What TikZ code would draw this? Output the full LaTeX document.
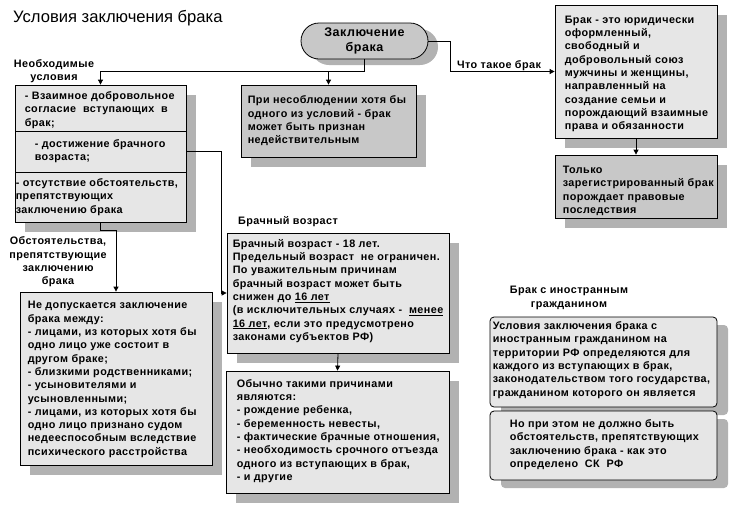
\documentclass[tikz,border=0pt]{standalone}
\usepackage{fontspec}
\setmainfont{Liberation Sans}[LetterSpace=4.0]
\newfontfamily\titlefont{Liberation Sans}
\usetikzlibrary{arrows.meta,shadows,calc}
\definecolor{lfill}{RGB}{230,230,230}
\definecolor{dfill}{RGB}{200,200,200}
\definecolor{shd}{RGB}{178,178,178}
\begin{document}
\begin{tikzpicture}[x=1pt,y=-1pt,
  every node/.style={font=\bfseries\fontsize{10.8}{13.3}\selectfont},
  bx/.style={draw, line width=0.8pt, rectangle, inner sep=0pt, anchor=center},
  lt/.style={bx, fill=lfill},
  dk/.style={bx, fill=dfill},
  tx/.style={align=left, inner sep=0pt, anchor=west},
  shad/.style={drop shadow={shadow xshift=10pt, shadow yshift=-10pt, fill=shd, opacity=1}},
  lbl/.style={align=center, inner sep=0pt},
  arr/.style={line width=0.8pt, -{Triangle[length=5pt,width=5pt]}},
  ln/.style={line width=0.8pt}]
\useasboundingbox (0,0) rectangle (730,504);

\node[anchor=west, inner sep=0pt, font=\titlefont\fontsize{16.6}{18}\selectfont] (title) at (13,18) {Условия заключения брака};

% terminator
\node[dk, rounded corners=18pt, minimum width=127pt, minimum height=36pt, align=center,
  font=\bfseries\fontsize{12.5}{15}\selectfont,
  drop shadow={shadow xshift=10pt, shadow yshift=-6pt, fill=shd, opacity=1}] (term) at (364.5,41) {Заключение\\брака};

% left box with three sections
\node[lt, shad, minimum width=171pt, minimum height=137pt] (cond) at (100.5,153.5) {};
\node[lt, minimum width=171pt, minimum height=46pt] (cond1) at (100.5,108) {};
\node[tx] (cond1t) at ($(cond1.west)+(10,2)$) {- Взаимное добровольное\\согласие\ \ вступающих\ \ в\\брак;};
\node[lt, minimum width=171pt, minimum height=41pt] (cond2) at (100.5,151.5) {};
\node[tx] (cond2t) at ($(cond2.west)+(20,0)$) {- достижение брачного\\возраста;};
\node[lt, minimum width=171pt, minimum height=50pt] (cond3) at (100.5,197) {};
\node[tx] (cond3t) at ($(cond3.west)+(1,0)$) {- отсутствие обстоятельств,\\препятствующих\\заключению брака};

\node[dk, shad, minimum width=175pt, minimum height=72pt] (nes) at (328.5,121) {};
\node[tx] (nest) at ($(nes.west)+(7,0)$) {При несоблюдении хотя бы\\одного из условий - брак\\может быть признан\\недействительным};

\node[lt, shad, minimum width=162pt, minimum height=133pt] (brak) at (636,71.5) {};
\node[tx] (brakt) at ($(brak.west)+(10,2.5)$) {Брак - это юридически\\оформленный,\\свободный и\\добровольный союз\\мужчины и женщины,\\направленный на\\создание семьи и\\порождающий взаимные\\права и обязанности};

\node[dk, shad, minimum width=162pt, minimum height=63pt] (tolko) at (636,186.5) {};
\node[tx] (tolkot) at ($(tolko.west)+(8,4.5)$) {Только\\зарегистрированный брак\\порождает правовые\\последствия};

\node[lt, shad, minimum width=222pt, minimum height=120pt] (vozr) at (338,293) {};
\node[tx] (vozrt) at ($(vozr.west)+(6,-2)$) {Брачный возраст - 18 лет.\\Предельный возраст\ \ не ограничен.\\По уважительным причинам\\брачный возраст может быть\\снижен до \underline{16 лет}\\(в исключительных случаях -\ \ \underline{менее}\\\underline{16 лет}, если это предусмотрено\\законами субъектов РФ)};

\node[lt, shad, minimum width=223pt, minimum height=122pt] (obych) at (337.5,432) {};
\node[tx] (obycht) at ($(obych.west)+(11,-1)$) {Обычно такими причинами\\являются:\\- рождение ребенка,\\- беременность невесты,\\- фактические брачные отношения,\\- необходимость срочного отъезда\\одного из вступающих в брак,\\- и другие};

\node[lt, shad, minimum width=192pt, minimum height=173pt] (nd) at (116,378.5) {};
\node[tx] (ndt) at ($(nd.west)+(8,1)$) {Не допускается заключение\\брака между:\\- лицами, из которых хотя бы\\одно лицо уже состоит в\\другом браке;\\- близкими родственниками;\\- усыновителями и\\усыновленными;\\- лицами, из которых хотя бы\\одно лицо признано судом\\недееспособным вследствие\\психического расстройства};

\node[lt, rounded corners=4pt, drop shadow={shadow xshift=11pt, shadow yshift=-8pt, fill=shd, opacity=1},
  minimum width=227pt, minimum height=90pt] (for1) at (603.5,362) {};
\node[tx] (for1t) at ($(for1.west)+(3,-2)$) {Условия заключения брака с\\иностранным гражданином на\\территории РФ определяются для\\каждого из вступающих в брак,\\законодательством того государства,\\гражданином которого он является};

\node[lt, rounded corners=4pt, drop shadow={shadow xshift=11pt, shadow yshift=-8pt, fill=shd, opacity=1},
  minimum width=227pt, minimum height=69pt] (for2) at (603.5,445.5) {};
\node[tx] (for2t) at ($(for2.west)+(20,-1)$) {Но при этом не должно быть\\обстоятельств, препятствующих\\заключению брака - как это\\определено\ \ СК\ \ РФ};

% labels
\node[lbl] (lneob) at (54,71.5) {Необходимые\\условия};
\node[lbl] (lobst) at (58,262) {Обстоятельства,\\препятствующие\\заключению\\брака};
\node[lbl, anchor=west] (lvozr) at (238,222) {Брачный возраст};
\node[lbl] (lfor) at (569,298) {Брак с иностранным\\гражданином};
\node[lbl] (lchto) at (499,66) {Что такое брак};

% connectors
\coordinate (j) at ($(term.south)+(0,12)$);
\draw[ln] (term.south) -- (j);
\draw[arr] (j) -| (cond.north);
\draw[arr] (nes.north |- j) -- (nes.north);
\draw[arr] (term.east) -- ++(22,0) |- (brak.west);
\draw[arr] (brak.south) -- (tolko.north);
\draw[arr] (cond2.east) -- ++(35,0) |- (vozr.west);
\draw[arr] (cond.south) -- ++(0,8) -| (nd.north);
\draw[arr] (vozr.south) -- (obych.north);
\end{tikzpicture}
\end{document}
